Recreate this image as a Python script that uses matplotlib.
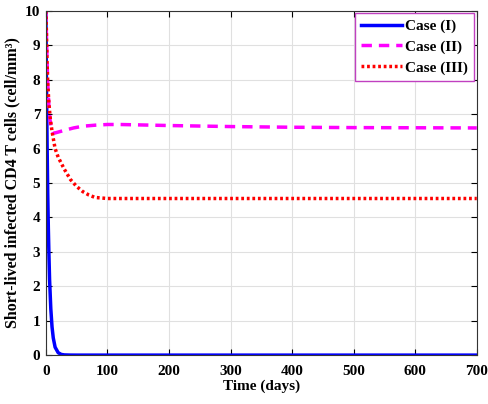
import numpy as np
import matplotlib
matplotlib.use('Agg')
import matplotlib.pyplot as plt

plt.rcParams['font.family'] = ['Liberation Serif', 'DejaVu Serif']
plt.rcParams['font.weight'] = 'bold'

# Case (I)
t1 = [0, 1, 2, 3, 4, 5, 6, 8, 10, 12, 15, 20, 25, 30, 40, 50, 700]
v1 = [10, 7.8, 6.1, 4.7, 3.7, 2.9, 2.2, 1.35, 0.82, 0.5, 0.23, 0.07, 0.02, 0.006, 0.001, 0, 0]

# Case (II)
t2 = [0, 1, 2, 3, 5, 7, 9, 11, 14, 20, 30, 45, 60, 80, 100, 120, 200, 300, 400, 500, 700]
v2 = [10, 9.2, 8.5, 7.9, 7.2, 6.8, 6.55, 6.47, 6.45, 6.48, 6.53, 6.6, 6.65, 6.68, 6.7,
      6.7, 6.67, 6.64, 6.62, 6.61, 6.6]

# Case (III)
t3 = [0, 1, 2, 3, 5, 7, 10, 15, 20, 30, 40, 50, 60, 70, 80, 100, 700]
v3 = [10, 9.3, 8.5, 7.9, 7.3, 6.9, 6.5, 6.0, 5.75, 5.4, 5.1, 4.9, 4.75, 4.65, 4.58, 4.55, 4.55]

labels = ['Case (I)', 'Case (II)', 'Case (III)']

fig = plt.figure(figsize=(4.88, 4.04), dpi=100)
ax = fig.add_axes([0.094, 0.121, 0.883, 0.852])

ax.plot(t1, v1, color='#0000ff', lw=2.5, label=labels[0])
ax.plot(t2, v2, color='#ff00ff', lw=2.5, ls=(0, (3, 2)), label=labels[1])
ax.plot(t3, v3, color='#ff0000', lw=2.5, ls=(0, (0.8, 0.8)), label=labels[2])

ax.set_xlim(0, 700)
ax.set_ylim(0, 10)
ax.set_xticks(np.arange(0, 701, 100))
ax.set_yticks(np.arange(0, 11, 1))
ax.grid(True, color='#e0e0e0', lw=0.8)
ax.tick_params(direction='in', top=True, right=True, labelsize=11, length=4, pad=4)
ax.tick_params(axis='x', pad=7)
for s in ax.spines.values():
    s.set_color('#333333')

ax.set_xlabel('Time (days)', fontsize=11, fontweight='bold', labelpad=1)
ax.set_ylabel('Short-lived infected CD4 T cells (cell/mm³)', fontsize=11.5,
              fontweight='bold', labelpad=3)

leg = ax.legend(loc='upper right', fontsize=11, fancybox=False, framealpha=1,
                handlelength=2.7, borderaxespad=0.15, labelspacing=0.45,
                handletextpad=0.2, borderpad=0.4)
leg.get_frame().set_edgecolor('#c040c0')
leg.get_frame().set_linewidth(1.0)

plt.savefig('out.png', dpi=100)
